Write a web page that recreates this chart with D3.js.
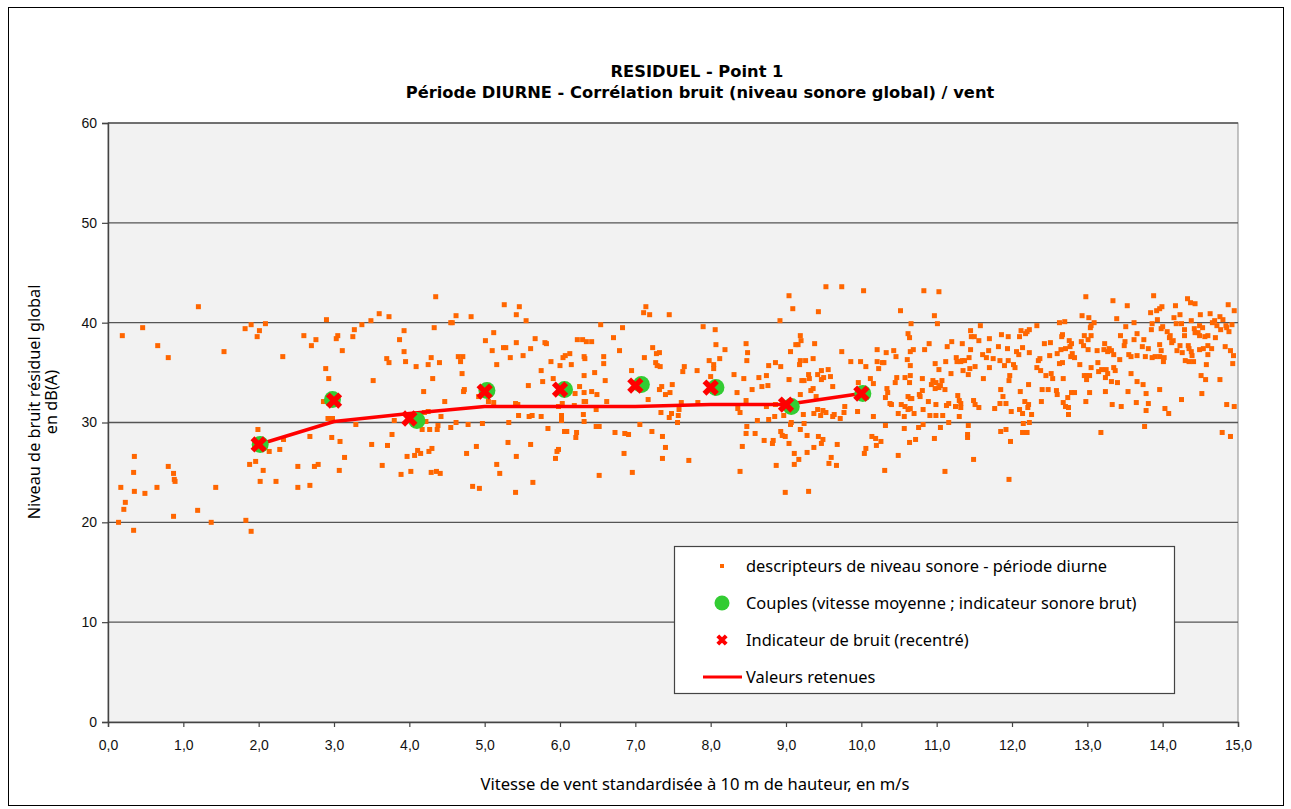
<!DOCTYPE html>
<html>
<head>
<meta charset="utf-8">
<script src="https://cdn.jsdelivr.net/npm/d3@7"></script>
<style>
  html, body { margin: 0; padding: 0; background: #fff; }
  svg { display: block; }
</style>
</head>
<body>
<svg id="chart" width="1291" height="809"></svg>
<script>
// Wind speed (m/s) / residual noise level dB(A) readings, daytime period
const descriptors = [
  [1.20,41.6],[0.19,38.7],[0.46,39.5],[0.66,37.7],[0.80,36.5],[1.82,39.4],[1.90,39.8],[2.09,39.9],[2.01,39.2],[1.98,38.6],
  [1.54,37.1],[2.32,36.6],[2.90,40.3],[2.60,38.7],[2.76,38.3],[2.70,37.7],[3.03,38.4],[2.89,35.4],[2.93,34.4],[2.86,32.1],
  [2.92,30.4],[2.98,30.4],[1.99,29.3],[2.33,28.3],[2.28,27.3],[2.68,28.6],[2.97,28.5],[2.14,27.1],[1.96,26.1],[1.88,25.8],
  [2.06,25.2],[2.02,24.1],[2.23,24.1],[2.52,25.6],[2.74,25.6],[2.79,25.8],[2.52,23.5],[2.68,23.7],[0.35,26.6],[0.34,25.0],
  [0.80,25.6],[0.87,24.9],[0.88,24.3],[0.89,24.1],[0.17,23.5],[0.35,23.1],[0.49,22.9],[0.65,23.5],[1.43,23.5],[0.23,22.0],
  [0.21,21.3],[0.87,20.6],[1.19,21.2],[0.14,20.0],[1.37,20.0],[1.83,20.2],[0.34,19.2],[1.90,19.1],
  [4.35,42.6],[3.60,40.9],[3.73,40.6],[3.49,40.2],[3.37,39.8],[3.27,39.3],[3.25,38.6],[3.05,38.7],[3.11,37.2],[3.93,39.2],
  [3.87,38.3],[3.93,37.1],[3.70,36.4],[3.73,36.0],[3.95,36.1],[4.09,35.6],[4.33,39.5],[4.29,36.5],[4.25,35.8],[4.40,36.0],
  [4.31,34.4],[3.52,34.2],[4.19,33.1],[4.47,32.1],[4.62,40.7],[4.55,40.0],[4.57,40.0],[4.82,40.6],[5.26,41.8],[5.46,41.6],
  [5.42,40.8],[5.55,40.2],[5.12,39.0],[5.01,38.2],[5.10,37.2],[5.25,37.5],[5.28,37.5],[5.42,38.0],[5.67,38.4],[5.80,38.0],
  [5.82,37.9],[5.61,37.4],[5.51,36.7],[5.34,36.5],[5.16,35.8],[4.65,36.6],[4.71,36.6],[4.68,36.1],[4.70,34.9],[4.73,33.3],
  [4.72,33.1],[4.92,32.6],[5.05,32.1],[5.12,32.0],[5.75,35.2],[5.88,36.1],[6.00,35.7],[6.04,36.5],[6.07,36.7],[5.91,34.4],
  [5.77,34.1],[5.58,33.7],[5.41,31.9],[5.44,31.8],[5.45,30.7],[5.59,30.6],[5.63,30.7],[5.75,30.6],[5.98,31.6],[6.03,31.9],
  [6.02,30.7],[6.02,30.2],[6.06,29.1],[5.84,29.4],[3.80,30.2],[4.20,31.0],[4.25,31.1],[4.22,30.1],[4.42,30.6],[4.38,29.7],
  [4.37,29.3],[4.27,29.3],[4.17,29.3],[3.29,29.8],[4.55,29.5],[4.62,30.0],[4.78,29.8],[4.97,29.9],[5.32,30.0],[3.77,28.8],
  [3.08,28.1],[3.50,27.8],[3.71,27.7],[3.14,26.5],[3.07,25.2],[3.64,25.7],[3.97,26.6],[4.07,26.7],[4.11,27.2],[4.15,26.9],
  [4.26,27.1],[4.30,27.4],[3.89,24.8],[4.02,25.1],[4.29,25.0],[4.36,25.1],[4.41,24.9],[4.76,26.9],[4.89,27.6],[5.31,28.0],
  [5.61,27.8],[5.42,26.6],[5.16,25.8],[5.20,24.9],[4.84,23.6],[4.93,23.4],[5.41,23.0],[5.64,24.0],[5.96,27.1],[5.98,27.3],
  [5.94,26.4],
  [9.04,42.7],[9.09,41.4],[8.92,40.2],[7.14,41.6],[7.11,41.0],[7.19,40.8],[7.45,40.8],[6.54,39.8],[6.83,39.5],[7.90,39.6],
  [8.06,39.3],[6.71,38.5],[6.23,38.3],[6.30,38.3],[6.35,38.1],[6.42,38.1],[6.79,37.2],[6.13,36.9],[6.32,36.6],[6.33,36.4],
  [6.15,35.8],[6.58,36.6],[6.58,35.9],[6.46,35.0],[6.32,34.7],[6.60,34.2],[6.26,33.6],[6.32,33.0],[6.20,32.9],[6.42,33.1],
  [6.49,32.8],[6.32,32.1],[6.34,32.1],[6.62,32.1],[6.19,31.7],[6.48,31.3],[6.31,30.8],[6.32,30.1],[6.48,29.6],[6.52,29.6],
  [6.22,29.0],[6.21,28.5],[6.09,29.1],[6.73,29.0],[6.86,28.9],[6.91,28.8],[7.06,29.8],[7.22,29.1],[7.36,28.6],[7.40,27.5],
  [7.36,26.4],[6.85,26.9],[6.52,24.7],[6.96,25.0],[7.71,26.2],[6.95,35.2],[7.12,36.5],[7.23,37.5],[7.28,36.9],[7.32,37.0],
  [7.27,36.0],[7.29,35.7],[7.33,35.6],[7.17,32.3],[7.35,33.6],[7.32,33.3],[7.40,32.8],[7.46,33.0],[7.49,33.8],[7.65,35.6],
  [7.63,35.1],[7.82,35.2],[7.61,32.0],[7.58,31.3],[7.48,30.9],[7.57,30.7],[7.45,30.5],[7.34,31.0],[7.56,30.0],[7.83,32.0],
  [7.98,36.2],[8.04,35.8],[8.04,35.4],[8.12,36.4],[8.00,34.6],[8.07,37.8],[8.19,37.3],[8.47,37.9],[8.49,37.0],[8.48,36.2],
  [8.31,34.8],[8.44,34.4],[8.35,33.0],[8.55,33.3],[8.64,34.5],[8.74,34.7],[8.68,33.6],[8.76,33.7],[8.77,35.7],[8.86,36.0],
  [8.93,35.6],[9.04,34.3],[9.06,37.1],[9.13,37.8],[8.47,32.2],[8.36,31.4],[8.39,31.0],[8.74,31.6],[8.86,31.8],[8.85,30.6],
  [8.77,30.3],[8.62,30.2],[8.48,29.6],[8.47,28.9],[8.59,28.9],[8.71,28.2],[8.82,27.9],[8.83,28.2],[8.93,29.1],[8.95,28.7],
  [8.99,28.6],[9.04,27.9],[9.07,30.0],[9.06,29.8],[9.11,26.9],[9.11,25.8],[8.87,25.7],[8.42,27.6],[8.39,25.1],[8.99,23.0],
  [8.97,30.7],
  [9.53,43.6],[9.74,43.6],[10.03,43.2],[10.83,43.2],[11.03,43.1],[9.43,41.1],[10.52,41.2],[10.97,40.7],[10.66,39.9],[11.01,39.9],
  [11.58,39.7],[9.19,38.7],[9.20,38.2],[9.16,37.8],[9.38,37.9],[10.62,38.9],[10.64,38.5],[10.90,37.9],[11.20,38.1],[11.14,37.6],
  [11.34,37.9],[11.45,39.2],[11.46,38.6],[11.50,38.6],[11.56,38.2],[11.70,38.4],[11.86,38.8],[11.95,38.6],[12.12,39.2],[12.10,38.6],
  [12.18,38.9],[9.74,37.1],[10.21,37.3],[10.33,37.0],[10.43,37.2],[10.46,36.6],[10.65,37.1],[10.69,37.3],[10.84,37.3],[11.45,37.3],
  [11.61,36.8],[11.69,37.2],[11.66,36.5],[11.75,36.4],[11.82,37.6],[11.94,37.4],[12.06,37.1],[12.09,36.8],[12.14,37.5],[9.19,36.2],
  [9.26,36.2],[9.36,36.4],[9.18,35.8],[9.86,36.1],[9.99,36.1],[10.06,35.6],[10.21,36.1],[10.23,35.4],[10.28,36.0],[10.30,36.0],
  [10.61,36.3],[10.65,35.7],[10.98,35.9],[11.03,35.3],[11.12,36.1],[11.26,36.5],[11.27,36.1],[11.32,36.1],[11.34,36.2],[11.37,36.2],
  [11.43,36.5],[11.44,35.4],[11.51,35.6],[11.42,34.8],[11.35,35.2],[11.19,34.9],[11.70,35.5],[11.84,36.2],[11.90,35.7],[11.95,36.2],
  [12.02,35.8],[12.04,35.5],[9.30,34.8],[9.21,34.2],[9.24,34.2],[9.31,34.4],[9.42,34.8],[9.47,35.2],[9.56,35.3],[9.50,34.5],
  [9.47,34.3],[9.59,34.6],[9.62,33.6],[9.33,33.2],[9.36,33.4],[9.19,32.8],[9.40,32.6],[9.96,34.0],[10.12,34.4],[10.16,33.9],
  [10.47,34.5],[10.45,34.0],[10.58,34.5],[10.64,34.0],[10.65,34.7],[10.81,34.4],[10.95,34.2],[10.99,34.0],[11.07,34.2],[10.93,33.8],
  [10.98,33.4],[11.03,33.5],[11.11,33.3],[11.05,33.7],[11.62,34.4],[11.96,34.2],[11.97,34.7],[11.85,33.3],[12.11,33.1],[10.34,33.4],
  [10.35,33.0],[10.32,32.5],[10.38,31.9],[10.40,31.8],[10.53,31.8],[10.62,32.6],[10.65,32.4],[10.67,32.4],[10.77,32.8],[10.81,33.2],
  [10.78,32.6],[10.89,32.1],[10.99,31.8],[10.58,31.6],[10.62,31.3],[10.65,31.4],[10.70,30.9],[10.49,30.9],[10.57,30.6],[10.82,31.3],
  [10.91,30.7],[10.99,30.7],[11.08,30.7],[11.13,31.7],[11.16,31.9],[11.25,31.6],[11.28,32.7],[11.30,32.2],[11.32,31.9],[11.32,31.5],
  [11.30,30.6],[11.49,32.2],[11.51,31.8],[11.56,31.5],[11.77,31.4],[11.84,31.9],[11.92,31.9],[11.88,32.6],[11.99,31.1],[12.10,31.3],
  [12.17,32.1],[12.14,30.9],[10.16,30.6],[10.32,29.7],[10.57,29.4],[10.76,29.5],[10.82,29.8],[11.05,29.5],[11.16,30.0],[11.42,29.7],
  [11.41,28.8],[11.41,28.5],[11.85,29.1],[11.92,29.3],[11.98,28.1],[12.14,29.0],[12.15,29.9],[10.97,28.4],[10.72,28.3],[10.64,28.0],
  [10.49,26.7],[10.31,25.2],[11.11,25.1],[11.49,26.3],[11.96,24.3],[9.95,31.1],[9.78,31.6],[9.77,31.0],[9.72,30.4],[9.64,30.8],
  [9.62,30.6],[9.53,31.0],[9.49,31.2],[9.46,30.7],[9.42,31.3],[9.37,30.9],[9.23,30.8],[9.24,29.9],[9.19,29.3],[9.28,28.7],
  [9.43,28.6],[9.47,27.9],[9.49,28.3],[9.37,27.5],[9.28,27.0],[9.17,26.3],[9.68,27.8],[9.60,26.5],[9.57,25.9],[9.67,25.7],
  [10.06,27.4],[10.04,26.9],[10.14,28.6],[10.19,28.4],[10.20,27.7],[10.26,28.1],[9.30,23.1],
  [12.98,42.6],[13.34,42.2],[13.53,41.7],[13.88,42.7],[14.33,42.4],[14.37,42.0],[14.43,41.9],[14.17,41.7],[13.99,41.6],[13.96,41.4],
  [13.92,41.2],[13.84,41.0],[14.87,41.8],[14.95,41.2],[12.93,40.7],[13.02,40.5],[13.39,40.4],[12.63,40.0],[12.70,40.1],[13.09,40.0],
  [13.05,39.7],[13.04,39.5],[12.33,39.7],[12.23,39.3],[12.20,39.1],[13.51,39.6],[13.62,40.0],[13.44,38.7],[13.66,38.9],[13.62,38.3],
  [13.93,40.3],[13.86,39.9],[13.85,39.3],[13.98,39.4],[14.00,39.6],[14.15,40.5],[14.23,40.8],[14.18,39.9],[14.25,39.9],[14.38,40.2],
  [14.50,40.8],[14.63,40.9],[14.76,40.6],[14.80,40.3],[14.69,40.2],[14.66,40.0],[14.72,39.7],[14.84,39.7],[14.92,39.8],[14.77,39.3],
  [14.88,39.1],[14.85,39.5],[14.49,39.7],[14.53,39.5],[14.42,39.4],[14.47,39.0],[14.43,39.0],[14.29,39.3],[14.29,38.7],[14.06,39.1],
  [14.10,38.7],[14.09,38.5],[14.14,38.2],[14.12,38.0],[14.49,38.7],[14.56,38.6],[14.60,38.7],[14.70,38.5],[12.67,38.8],[12.66,38.6],
  [12.43,37.9],[12.51,38.0],[12.76,38.2],[12.79,37.9],[12.77,37.6],[12.96,38.7],[13.01,38.3],[13.05,38.7],[12.92,38.1],[12.95,37.7],
  [13.01,37.3],[12.71,37.4],[12.65,37.3],[12.60,36.9],[12.23,37.0],[12.37,36.4],[12.35,36.2],[12.50,36.7],[12.80,36.9],[12.83,36.5],
  [12.78,36.6],[12.63,35.9],[12.67,36.0],[12.90,35.8],[13.13,37.2],[13.23,37.9],[13.22,37.3],[13.27,37.1],[13.29,37.4],[13.32,37.2],
  [13.35,36.8],[13.14,36.0],[13.43,36.3],[13.49,37.7],[13.50,38.1],[13.55,36.8],[13.58,36.6],[13.66,36.7],[13.73,37.6],[13.75,38.3],
  [13.81,37.4],[13.77,36.6],[13.86,36.5],[13.90,36.6],[13.96,36.6],[14.02,36.5],[14.01,36.1],[13.96,37.8],[13.98,37.2],[14.19,37.2],
  [14.23,37.7],[14.26,37.0],[14.34,37.7],[14.35,37.4],[14.38,37.1],[14.39,36.7],[14.30,36.2],[14.35,36.1],[14.41,36.1],[14.49,37.3],
  [14.54,37.4],[14.60,37.7],[14.65,37.4],[14.60,36.8],[14.58,35.8],[14.83,37.6],[14.90,37.2],[14.94,36.7],[14.93,35.9],[14.51,34.7],
  [14.57,34.3],[14.76,34.3],[14.52,32.9],[14.25,32.3],[14.85,31.8],[14.95,31.6],[14.03,31.4],[14.08,30.9],[13.96,33.3],[13.78,32.9],
  [13.81,31.9],[13.78,31.2],[13.74,33.8],[13.66,34.1],[13.65,32.0],[13.54,33.1],[13.45,31.6],[13.33,31.8],[13.40,34.0],[13.32,34.1],
  [13.35,35.5],[13.37,35.2],[13.25,35.3],[13.27,34.9],[13.19,35.3],[13.15,35.1],[13.24,34.5],[13.58,34.9],[13.05,35.5],[13.03,34.7],
  [12.99,34.7],[12.96,34.7],[12.99,34.3],[13.03,33.0],[12.83,33.0],[12.79,33.0],[12.74,32.5],[12.68,32.0],[12.71,31.6],[12.75,31.5],
  [12.75,30.8],[12.98,32.1],[13.24,33.1],[12.68,34.4],[12.54,34.4],[12.52,34.9],[12.45,34.7],[12.38,35.2],[12.33,35.5],[12.22,33.8],
  [12.40,33.3],[12.48,33.3],[12.59,33.2],[12.60,32.8],[12.39,32.1],[12.22,31.8],[12.21,31.5],[12.26,30.8],[12.23,30.0],[12.20,29.0],
  [13.18,29.0],[13.76,29.6],[14.79,29.0],[14.90,28.6]
];

// Couples (mean wind speed ; raw sound indicator)
const coupleSpeeds = [2.02, 2.98, 4.10, 5.03, 6.06, 7.08, 8.07, 9.07, 10.02];
const coupleLevels = [27.8, 32.3, 30.2, 33.2, 33.3, 33.8, 33.5, 31.6, 32.9];

// Noise indicator, recentred on integer wind speeds
const indicatorSpeeds = [2, 3, 4, 5, 6, 7, 8, 9, 10];
const indicatorLevels = [27.8, 32.2, 30.4, 33.1, 33.3, 33.7, 33.5, 31.8, 32.9];

// Retained values
const retainedSpeeds = [2, 3, 4, 5, 6, 7, 8, 9, 10];
const retainedLevels = [27.8, 30.1, 30.9, 31.6, 31.6, 31.6, 31.8, 31.8, 32.9];

const xTicks = d3.range(0, 15.001, 1);
const yTicks = [0, 10, 20, 30, 40, 50, 60];

const titleLines = ["RESIDUEL - Point 1", "Période DIURNE - Corrélation bruit (niveau sonore global) / vent"];
const yTitleLines = ["Niveau de bruit résiduel global", "en dB(A)"];
const xTitle = "Vitesse de vent standardisée à 10 m de hauteur, en m/s";
const legendLabels = [
  "descripteurs de niveau sonore - période diurne",
  "Couples (vitesse moyenne ; indicateur sonore brut)",
  "Indicateur de bruit (recentré)",
  "Valeurs retenues"
];

const svg = d3.select("#chart");
const plot = { left: 108, right: 1238, top: 123, bottom: 722 };

const textFont = "'Noto Sans', 'DejaVu Sans', sans-serif";
const titleFont = "'DejaVu Sans', 'Noto Sans', sans-serif";
const tickFont = "'Liberation Sans', Arial, sans-serif";

// outer frame
svg.append("rect").attr("x", 8.5).attr("y", 7.5).attr("width", 1275).attr("height", 798)
  .attr("fill", "#fff").attr("stroke", "#000").attr("stroke-width", 1);

const x = d3.scaleLinear().domain([0, 15]).range([plot.left, plot.right]);
const y = d3.scaleLinear().domain([0, 60]).range([plot.bottom, plot.top]);

// plot area
svg.append("rect").attr("x", plot.left).attr("y", plot.top)
  .attr("width", plot.right - plot.left).attr("height", plot.bottom - plot.top)
  .attr("fill", "#f2f2f2").attr("stroke", "#8c8c8c").attr("stroke-width", 1);

// horizontal gridlines
svg.append("g").selectAll("line").data(yTicks.filter(d => d > 0)).join("line")
  .attr("x1", plot.left).attr("x2", plot.right)
  .attr("y1", d => y(d)).attr("y2", d => y(d))
  .attr("stroke", "#555").attr("stroke-width", 1.4);

// axes
const fmt = d => d3.format(".1f")(d).replace(".", ",");
const xAxis = svg.append("g").attr("transform", `translate(0,${plot.bottom})`)
  .call(d3.axisBottom(x).tickValues(xTicks).tickFormat(fmt).tickSize(5).tickPadding(13));
const yAxis = svg.append("g").attr("transform", `translate(${plot.left},0)`)
  .call(d3.axisLeft(y).tickValues(yTicks).tickSize(6).tickPadding(5));
[xAxis, yAxis].forEach(g => {
  g.select(".domain").attr("stroke", "#444").attr("stroke-width", 1.4);
  g.selectAll(".tick line").attr("stroke", "#444").attr("stroke-width", 1.2);
  g.selectAll(".tick text").attr("font-family", tickFont).attr("font-size", 14).attr("fill", "#111");
});

// scatter of descriptors
const sq = 5;
svg.append("g").selectAll("rect").data(descriptors).join("rect")
  .attr("x", d => x(d[0]) - sq / 2).attr("y", d => y(d[1]) - sq / 2)
  .attr("width", sq).attr("height", sq)
  .attr("fill", "#ff6600");

// retained values line
const line = d3.line().x(d => x(d[0])).y(d => y(d[1]));
svg.append("path").datum(retainedSpeeds.map((s, i) => [s, retainedLevels[i]]))
  .attr("d", line).attr("fill", "none").attr("stroke", "#ff0000").attr("stroke-width", 3.5)
  .attr("stroke-linejoin", "round");

// couples
svg.append("g").selectAll("circle").data(coupleSpeeds.map((s, i) => [s, coupleLevels[i]])).join("circle")
  .attr("cx", d => x(d[0])).attr("cy", d => y(d[1])).attr("r", 8.5)
  .attr("fill", "#33cc33");

// indicator crosses
const crossPath = a => `M${-a},${-a}L${a},${a}M${-a},${a}L${a},${-a}`;
svg.append("g").selectAll("path").data(indicatorSpeeds.map((s, i) => [s, indicatorLevels[i]])).join("path")
  .attr("transform", d => `translate(${x(d[0])},${y(d[1])})`)
  .attr("d", crossPath(6.2)).attr("stroke", "#ff0000").attr("stroke-width", 5.5).attr("fill", "none");

// titles
svg.append("g").selectAll("text").data(titleLines).join("text")
  .attr("x", (d, i) => i === 0 ? 697 : 700).attr("y", (d, i) => 77 + i * 21)
  .attr("text-anchor", "middle").attr("font-family", titleFont).attr("font-weight", "bold")
  .attr("font-size", 16.3).attr("fill", "#000").text(d => d);

svg.append("g").selectAll("text").data(yTitleLines).join("text")
  .attr("transform", (d, i) => `translate(${40 + i * 17},402) rotate(-90)`)
  .attr("text-anchor", "middle").attr("font-family", textFont)
  .attr("font-size", 16.3).attr("fill", "#000").text(d => d);

svg.append("text").attr("x", 695).attr("y", 790).attr("text-anchor", "middle")
  .attr("font-family", textFont).attr("font-size", 16.6).attr("fill", "#000").text(xTitle);

// legend
const lg = svg.append("g");
lg.append("rect").attr("x", 674.5).attr("y", 546.5).attr("width", 500).attr("height", 147)
  .attr("fill", "#fff").attr("stroke", "#444").attr("stroke-width", 1.2);
const rowY = [566, 603, 640, 677];
lg.append("rect").attr("x", 720).attr("y", rowY[0] - 2).attr("width", 4).attr("height", 4).attr("fill", "#ff6600");
lg.append("circle").attr("cx", 722).attr("cy", rowY[1]).attr("r", 7.5).attr("fill", "#33cc33");
lg.append("path").attr("transform", `translate(722,${rowY[2]})`).attr("d", crossPath(4.2))
  .attr("stroke", "#ff0000").attr("stroke-width", 4).attr("fill", "none");
lg.append("line").attr("x1", 703).attr("x2", 742).attr("y1", rowY[3]).attr("y2", rowY[3])
  .attr("stroke", "#ff0000").attr("stroke-width", 3);
lg.selectAll("text").data(legendLabels).join("text")
  .attr("x", 746).attr("y", (d, i) => rowY[i] + 5.5)
  .attr("font-family", textFont).attr("font-size", 16.4).attr("fill", "#000").text(d => d);
</script>
</body>
</html>
